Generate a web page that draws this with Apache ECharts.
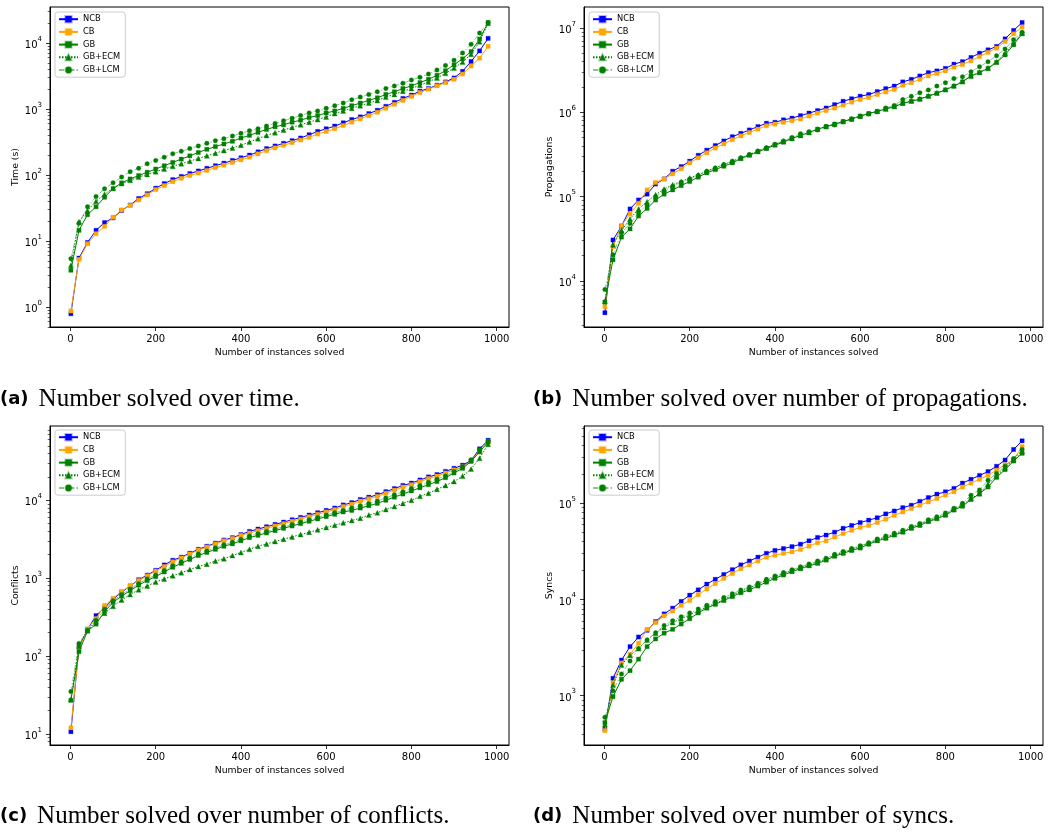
<!DOCTYPE html>
<html><head><meta charset="utf-8">
<script src="https://cdn.jsdelivr.net/npm/echarts@6/dist/echarts.min.js"></script>
<style>html,body{margin:0;padding:0;background:#fff}#c{width:1048px;height:833px}</style>
</head><body><div id="c"></div><script>
const solved = [1,20,40,60,80,100,120,140,160,180,200,220,240,260,280,300,320,340,360,380,400,420,440,460,480,500,520,540,560,580,600,620,640,660,680,700,720,740,760,780,800,820,840,860,880,900,920,940,960,980];
const seriesNames = ['NCB','CB','GB','GB+ECM','GB+LCM'];
const xTicks = [0,200,400,600,800,1000];

const timeNCB = [0.79,5.5,9.5,14.5,19,22.4,29,35,44,52,63,74,85,95,105,115,126,138,151,166,182,200,224,251,275,302,331,363,407,457,501,550,617,692,759,851,955,1096,1259,1445,1622,1862,2042,2291,2570,2951,3715,5248,7586,11750];
const timeCB = [0.87,5.25,9.1,12.9,16.6,22.9,29.5,34.7,41.7,50,60,69,79,89,98,107,117,129,141,155,170,186,209,234,257,282,309,339,372,417,457,501,562,631,708,794,891,1023,1175,1349,1549,1778,1995,2239,2512,2818,3388,4467,5888,8913];
const timeGB = [3.6,14.5,25,33,46,62,76,87,98,110,123,138,155,174,195,219,245,269,295,324,363,398,442,490,537,575,631,676,741,794,871,933,1023,1122,1230,1349,1479,1660,1820,2042,2239,2512,2818,3236,3802,4677,5754,7413,11480,20400];
const timeECM = [4.3,19.5,29,40,51,63,74,83,93,102,112,123,135,148,162,178,195,214,234,257,282,316,355,398,437,479,525,575,631,692,759,851,933,1023,1122,1230,1349,1514,1660,1862,2042,2291,2570,2951,3467,4169,5129,6761,10470,19950];
const timeLCM = [5.4,18.6,33,47,62,76,93,112,126,148,166,186,209,229,251,275,302,331,355,389,427,468,501,550,603,661,724,794,871,933,1023,1122,1230,1380,1514,1660,1820,2042,2239,2455,2754,3020,3388,3890,4571,5495,7079,9550,14130,20400];

const propNCB = [4200,30600,44700,71400,91200,107000,141000,162000,200000,227000,263000,309000,355000,403000,457000,513000,562000,617000,676000,741000,760000,813000,851000,912000,977000,1047000,1122000,1230000,1349000,1445000,1549000,1622000,1758000,1905000,2042000,2291000,2455000,2692000,2951000,3090000,3311000,3715000,3981000,4467000,5012000,5495000,6026000,7413000,9333000,11590000];
const propCB = [4950,25700,45300,62400,83200,120000,147000,162000,186000,214000,251000,288000,331000,376000,422000,473000,525000,575000,631000,692000,724000,759000,794000,832000,902000,977000,1047000,1122000,1216000,1318000,1413000,1496000,1622000,1738000,1862000,2089000,2239000,2455000,2692000,2884000,3090000,3428000,3673000,4074000,4571000,5129000,5754000,6918000,8511000,10230000];
const propGB = [5620,17800,33100,41400,58900,72400,91200,107000,120000,135000,151000,170000,191000,209000,229000,251000,282000,309000,339000,372000,407000,442000,490000,531000,575000,631000,676000,724000,776000,832000,902000,966000,1023000,1096000,1161000,1274000,1349000,1429000,1549000,1679000,1841000,2042000,2291000,2692000,2951000,3311000,3890000,4786000,6310000,8511000];
const propECM = [5750,26900,39800,54300,71400,87100,105000,123000,138000,151000,166000,182000,200000,219000,240000,263000,288000,316000,347000,380000,417000,452000,490000,531000,575000,631000,676000,724000,776000,832000,902000,966000,1023000,1096000,1175000,1288000,1365000,1445000,1567000,1698000,1862000,2065000,2317000,2692000,2985000,3350000,3981000,5012000,6607000,8710000];
const propLCM = [7940,20400,37200,47900,64600,79400,100000,117000,132000,148000,162000,178000,200000,219000,240000,263000,288000,316000,347000,380000,417000,457000,501000,556000,589000,617000,676000,708000,776000,832000,891000,955000,1023000,1122000,1202000,1413000,1549000,1698000,1841000,2042000,2239000,2512000,2630000,3020000,3467000,3981000,4677000,5623000,7244000,8913000];

const confNCB = [10.7,132,219,331,417,537,661,794,955,1096,1259,1479,1698,1862,2089,2344,2570,2818,3090,3311,3631,3981,4266,4571,4898,5248,5623,6026,6457,6918,7413,7943,8710,9333,10230,10960,11750,12880,14130,15490,16600,18200,19950,21380,23440,25700,28180,32360,45700,58900];
const confCB = [12,126,224,302,447,550,676,794,933,1072,1230,1413,1622,1820,2042,2291,2512,2754,3020,3236,3548,3802,4074,4365,4677,5012,5370,5754,6166,6607,7079,7586,8318,8913,9772,10470,11220,12300,13490,14790,15850,17380,19050,20420,22390,24550,26920,31620,42660,54950];
const confGB = [27,114,209,257,372,490,589,692,813,933,1047,1202,1380,1549,1738,1950,2138,2344,2570,2754,3020,3311,3548,3802,4074,4365,4677,5012,5370,5754,6166,6607,7079,7413,7943,8511,9120,10000,10960,12020,13180,14450,15850,17380,19500,22390,25700,31620,41690,56230];
const confECM = [28,135,214,275,355,437,525,617,708,794,891,977,1072,1175,1288,1413,1514,1660,1778,1950,2138,2344,2570,2754,2951,3162,3388,3631,3890,4169,4467,4786,5129,5495,5888,6457,6918,7586,8318,9120,10000,11220,12300,13800,15490,17380,20420,25120,34670,52480];
const confLCM = [35,145,214,288,398,513,617,724,851,977,1096,1259,1445,1622,1820,2042,2239,2455,2692,2884,3162,3467,3715,3981,4266,4571,4898,5248,5623,6026,6457,6918,7413,7943,8511,9120,9772,10720,11750,12880,14130,15490,16980,18620,20420,23440,26920,33110,44670,57540];

const syncNCB = [447,1514,2344,3236,4074,4786,5888,7079,8128,9550,11090,12590,14450,16220,18200,20420,22910,25120,27540,30200,32360,33880,35480,37580,40740,44160,46770,50120,54950,58880,63100,66830,70790,77620,83180,90160,95500,104700,114800,124500,131800,142900,162200,177800,195000,213800,242700,281800,363100,446700];
const syncCB = [433,1365,2188,2692,3508,4898,5754,6761,7586,8710,9772,11220,12880,14620,16600,18620,20890,22910,25120,27540,28840,30200,31260,33110,35890,38900,40740,44670,48420,52480,56230,58880,63100,68390,74990,81280,88100,95500,103500,112200,121600,131800,147900,162200,177800,195000,221300,251200,285100,389000];
const syncGB = [525,977,1479,1820,2399,3236,3890,4467,4898,5559,6310,7244,8128,8913,9772,10720,11750,12590,13800,15140,16600,17990,19500,20890,22390,23710,25700,28180,30200,32360,34280,37580,40740,43150,46770,50120,54950,58880,64570,69180,74990,85110,93330,109600,125900,147900,186200,223900,275400,331100];
const syncECM = [501,1288,2089,2630,3090,3802,4467,5129,5754,6310,6918,7586,8318,9120,10000,11090,12160,13180,14450,15850,17180,18620,19950,21380,22910,24550,26300,28840,30900,33110,35480,38460,41690,44670,47860,51290,56230,60260,66070,70790,77620,87100,96600,112200,125900,158500,192800,234400,281800,346700];
const syncLCM = [596,1122,1679,2291,3090,3802,4519,5370,6026,6607,7244,7943,8710,9550,10470,11480,12590,13490,14790,16220,17580,19050,20420,21880,23440,25120,26920,29510,31620,33880,36310,38900,42660,45710,48980,52480,57540,61660,67610,72440,79430,89130,100000,121600,138000,173800,204200,242700,291700,363100];

const panels = [
  {yName:'Time (s)', data:[timeNCB,timeCB,timeGB,timeECM,timeLCM], grid:{left:50,top:7,width:459,height:320}, ymin:0.497, ymax:35100, leg:[55,12]},
  {yName:'Propagations', data:[propNCB,propCB,propGB,propECM,propLCM], grid:{left:584,top:7,width:459,height:320}, ymin:2845, ymax:1.77e7, leg:[589,12]},
  {yName:'Conflicts', data:[confNCB,confCB,confGB,confECM,confLCM], grid:{left:50,top:426,width:459,height:319}, ymin:7.22, ymax:89800, leg:[55,430]},
  {yName:'Syncs', data:[syncNCB,syncCB,syncGB,syncECM,syncLCM], grid:{left:584,top:426,width:459,height:319}, ymin:307, ymax:637000, leg:[589,430]}
];
const captions = [
  {label:'(a)', text:'Number solved over time.', left:0, top:386},
  {label:'(b)', text:'Number solved over number of propagations.', left:533, top:386},
  {label:'(c)', text:'Number solved over number of conflicts.', left:0, top:803},
  {label:'(d)', text:'Number solved over number of syncs.', left:533, top:803}
];

const styles = [
  {color:'#0000ff', line:'#0000ff', symbol:'rect', size:4.2, type:'solid'},
  {color:'#ffa500', line:'#ffa500', symbol:'rect', size:4.2, type:'solid'},
  {color:'#008000', line:'#008000', symbol:'rect', size:4.2, type:'solid'},
  {color:'#008000', line:'#008000', symbol:'triangle', size:5, type:[1.5,1.5]},
  {color:'#008000', line:'rgba(0,128,0,0.45)', symbol:'circle', size:4.5, type:[5,2,1.5,2]}
];
const edge = {'#0000ff':'rgba(0,0,255,0.3)','#ffa500':'rgba(255,165,0,0.3)','#008000':'rgba(0,128,0,0.3)'};

function powersIn(a,b){const r=[];for(let e=-3;e<=9;e++){const v=Math.pow(10,e);if(v>=a&&v<=b)r.push(v);}return r;}
function minorsIn(a,b){const r=[];for(let e=-3;e<=9;e++){for(let m=2;m<=9;m++){const v=m*Math.pow(10,e);if(v>=a&&v<=b)r.push(v);}}return r;}
function fmtLog(v){const l=Math.log10(v);const e=Math.round(l);if(Math.abs(l-e)>1e-6)return '';return '{b|10}{s|'+e+'}';}

const grid=[],xAxis=[],yAxis=[],series=[],legend=[],title=[];
panels.forEach((p,i)=>{
  grid.push(Object.assign({show:true,borderColor:'#000',borderWidth:1,backgroundColor:'transparent',outerBoundsMode:'none'},p.grid));
  xAxis.push({type:'value',gridIndex:i,min:-48,max:1029,position:'bottom',
    axisLine:{show:true,onZero:false,lineStyle:{color:'#000',width:1}},
    axisTick:{show:true,length:4,lineStyle:{color:'#000',width:0.8},customValues:xTicks},
    axisLabel:{customValues:xTicks,color:'#000',fontSize:10,fontFamily:'DejaVu Sans',margin:7,
      formatter:v=>(xTicks.indexOf(v)>=0?String(v):'')},
    splitLine:{show:false},
    name:'Number of instances solved',nameLocation:'middle',nameGap:21,
    nameTextStyle:{color:'#000',fontSize:9.3,fontFamily:'DejaVu Sans'}});
  yAxis.push({type:'log',logBase:10,gridIndex:i,min:p.ymin,max:p.ymax,position:'left',
    axisLine:{show:true,onZero:false,lineStyle:{color:'#000',width:1}},
    axisTick:{show:true,length:4,lineStyle:{color:'#000',width:0.8},customValues:powersIn(p.ymin,p.ymax)},
    axisLabel:{customValues:powersIn(p.ymin,p.ymax),color:'#000',margin:8,formatter:fmtLog,
      rich:{b:{fontSize:10,fontFamily:'DejaVu Sans',color:'#000',verticalAlign:'bottom',lineHeight:15},
            s:{fontSize:7,fontFamily:'DejaVu Sans',color:'#000',verticalAlign:'top',lineHeight:9}}},
    splitLine:{show:false},
    name:p.yName,nameLocation:'middle',nameGap:30,
    nameTextStyle:{color:'#000',fontSize:9.3,fontFamily:'DejaVu Sans'}});
  yAxis.push({type:'log',logBase:10,gridIndex:i,min:p.ymin,max:p.ymax,position:'left',offset:0,
    axisLine:{show:false,onZero:false},
    axisTick:{show:true,length:2.3,lineStyle:{color:'#000',width:0.6},customValues:minorsIn(p.ymin,p.ymax)},
    axisLabel:{show:false},splitLine:{show:false}});
  p.data.forEach((vals,k)=>{
    const st=styles[k];
    series.push({type:'line',name:seriesNames[k],xAxisIndex:i,yAxisIndex:2*i,
      data:solved.map((x,j)=>[x,vals[j]]),
      symbol:st.symbol,symbolSize:st.size,showSymbol:true,
      lineStyle:{color:st.line,width:1,type:st.type},
      itemStyle:{color:st.color,borderColor:edge[st.color],borderWidth:1},
      emphasis:{disabled:true},silent:true,z:2+k});
  });
  legend.push({left:p.leg[0],top:p.leg[1],orient:'vertical',data:seriesNames,
    itemWidth:19,itemHeight:8,itemGap:4.3,selectedMode:false,
    textStyle:{fontSize:8.3,fontFamily:'DejaVu Sans',color:'#000',lineHeight:8},
    borderColor:'#cccccc',borderWidth:1,borderRadius:3,backgroundColor:'rgba(255,255,255,0.8)',padding:[3,5,3,3]});
});
captions.forEach(c=>{
  title.push({left:c.left,top:c.top,padding:0,
    text:'{b|'+c.label+'}{r|'+c.text+'}',
    textStyle:{fontWeight:'normal',rich:{b:{fontFamily:'DejaVu Sans',fontWeight:'bold',fontSize:18,color:'#000',padding:[0,10,0,0],lineHeight:26},
                     r:{fontFamily:'Liberation Serif',fontWeight:'normal',fontSize:25,color:'#000',lineHeight:26}}}});
});

const chart = echarts.init(document.getElementById('c'),null,{renderer:'canvas'});
chart.setOption({animation:false,backgroundColor:'#fff',title,grid,xAxis,yAxis,series,legend});
</script></body></html>
